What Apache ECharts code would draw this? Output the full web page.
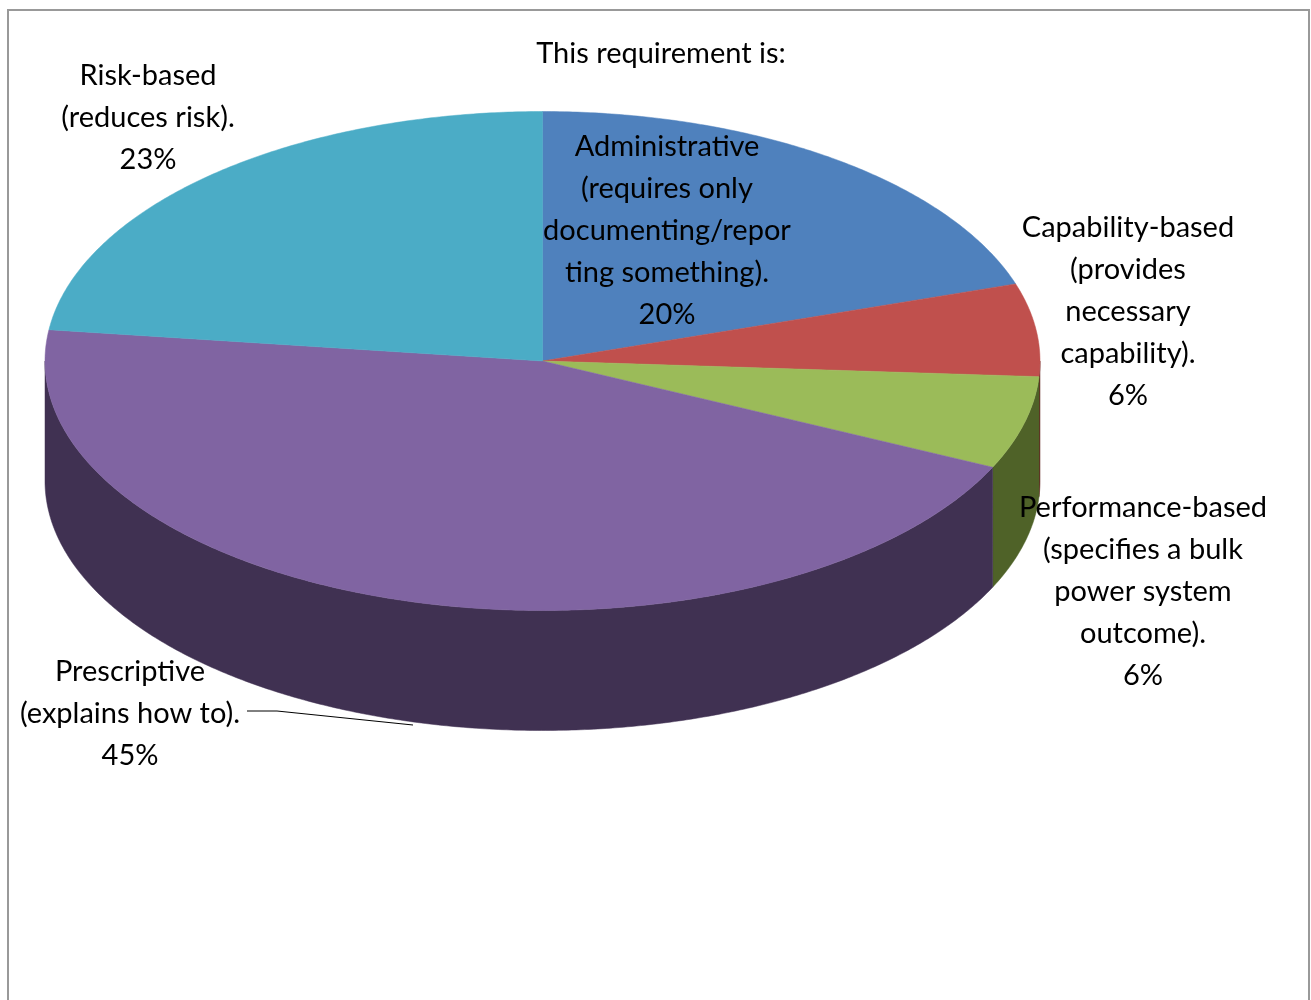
<!DOCTYPE html>
<html>
<head>
<meta charset="utf-8">
<script src="https://cdn.jsdelivr.net/npm/echarts@6/dist/echarts.min.js"></script>
<style>html,body{margin:0;padding:0;background:#fff}#chart{width:1311px;height:1000px}</style>
</head>
<body>
<div id="chart"></div>
<script>
// ---- data ----
const categories = [
  'Administrative (requires only documenting/reporting something).',
  'Capability-based (provides necessary capability).',
  'Performance-based (specifies a bulk power system outcome).',
  'Prescriptive (explains how to).',
  'Risk-based (reduces risk).'
];
const labelLines = [
  ['Administrative', '(requires only', 'documenting/repor', 'ting something).'],
  ['Capability-based', '(provides', 'necessary', 'capability).'],
  ['Performance-based', '(specifies a bulk', 'power system', 'outcome).'],
  ['Prescriptive', '(explains how to).'],
  ['Risk-based', '(reduces risk).']
];
const values = [20, 6, 6, 45, 23];
const titleText = 'This requirement is:';

// ---- styles ----
const topColors = ['#4F81BD', '#C0504D', '#9BBB59', '#8064A2', '#4BACC6'];
const sideColors = ['#2C4D75', '#632523', '#4F6228', '#403152', '#215968'];
const labelAnchors = [[667, 126], [1128, 207], [1143, 487], [130, 651], [148, 55]];
const FONT_SIZE = 29;

const G = { cx: 542.5, cy: 361, rx: 497.5, ry: 249.5, depth: 120 };
const total = values.reduce((a, b) => a + b, 0);
function sliceAngles(i) {
  let s = 0;
  for (let j = 0; j < i; j++) s += values[j];
  return [s / total * 360, (s + values[i]) / total * 360];
}
function pt(deg, dy) {
  const r = deg * Math.PI / 180;
  return [G.cx + G.rx * Math.sin(r), G.cy - G.ry * Math.cos(r) + (dy || 0)];
}
function arc(a0, a1, dy) {
  const pts = [];
  const n = Math.max(2, Math.ceil(Math.abs(a1 - a0) / 0.5));
  for (let k = 0; k <= n; k++) pts.push(pt(a0 + (a1 - a0) * k / n, dy));
  return pts;
}

const chart = echarts.init(document.getElementById('chart'), null, { renderer: 'canvas' });

const textStyle = { fontSize: FONT_SIZE, fontFamily: 'Lato', align: 'center', verticalAlign: 'top', lineHeight: 42, fill: '#000' };
const graphics = [
  { type: 'rect', shape: { x: 8, y: 10, width: 1301, height: 1000 }, style: { fill: 'none', stroke: '#999', lineWidth: 2 }, z: 0 },
  { type: 'text', x: 661, y: 33, style: Object.assign({ text: titleText }, textStyle), z: 10 },
  { type: 'polyline', shape: { points: [[247, 711], [277, 711], [413, 725]] }, style: { stroke: '#000', lineWidth: 1, fill: 'none' }, z: 10 }
];
categories.forEach((c, i) => {
  graphics.push({
    type: 'text', x: labelAnchors[i][0], y: labelAnchors[i][1],
    style: Object.assign({ text: labelLines[i].concat([values[i] + '%']).join('\n') }, textStyle),
    z: 10
  });
});

chart.setOption({
  animation: false,
  graphic: graphics,
  series: [
    {
      type: 'custom', name: 'sides', coordinateSystem: 'none', z: 2,
      data: values.map((v, i) => ({ name: categories[i], value: v })),
      renderItem: function (params, api) {
        const i = params.dataIndex;
        const [a0, a1] = sliceAngles(i);
        const s = Math.max(a0, 90), e = Math.min(a1, 270);
        if (s >= e) return { type: 'group', children: [] };
        const pts = arc(s, e, 0).concat(arc(e, s, G.depth));
        return { type: 'polygon', shape: { points: pts }, style: { fill: sideColors[i], stroke: sideColors[i], lineWidth: 0.5 } };
      }
    },
    {
      type: 'custom', name: 'tops', coordinateSystem: 'none', z: 3,
      data: values.map((v, i) => ({ name: categories[i], value: v })),
      renderItem: function (params, api) {
        const i = params.dataIndex;
        const [a0, a1] = sliceAngles(i);
        const pts = [[G.cx, G.cy]].concat(arc(a0, a1, 0));
        return { type: 'polygon', shape: { points: pts }, style: { fill: topColors[i], stroke: topColors[i], lineWidth: 0.5 } };
      }
    }
  ]
});
</script>
</body>
</html>
